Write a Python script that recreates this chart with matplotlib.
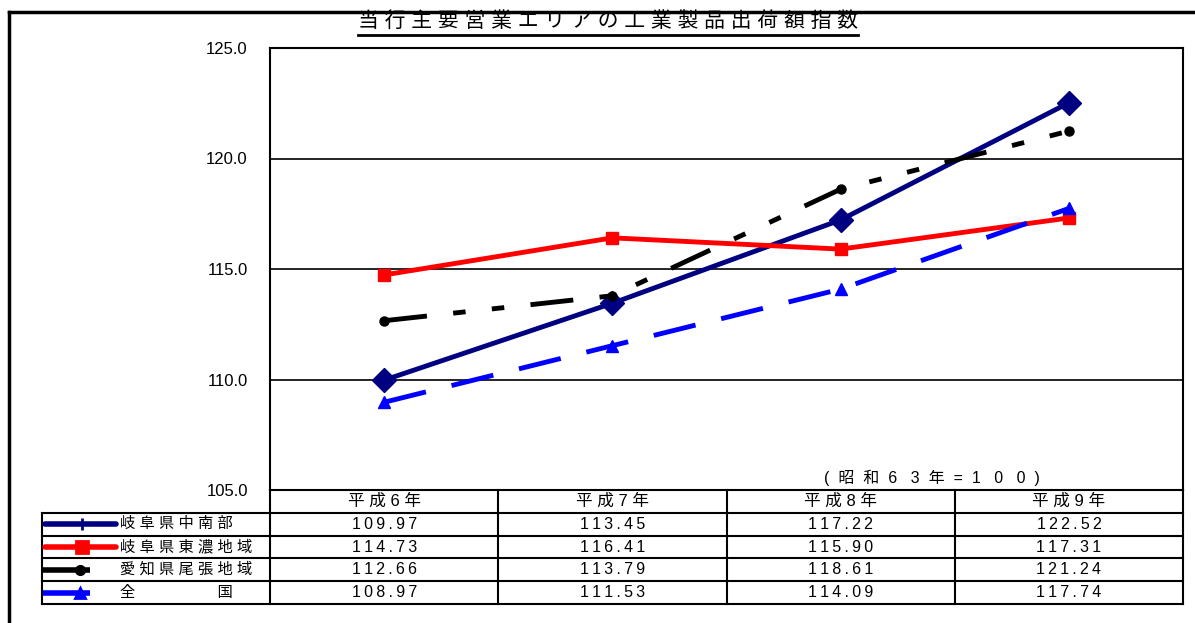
import matplotlib
matplotlib.use('Agg')
import matplotlib.pyplot as plt
from matplotlib.lines import Line2D

plt.rcParams['font.family'] = ['Liberation Sans', 'Noto Sans CJK JP', 'DejaVu Sans']
plt.rcParams['lines.scale_dashes'] = False

# data
years = ['平成6年', '平成7年', '平成8年', '平成9年']
names = ['岐阜県中南部', '岐阜県東濃地域', '愛知県尾張地域', '全　　　　国']
chubu = [109.97, 113.45, 117.22, 122.52]
tono = [114.73, 116.41, 115.90, 117.31]
owari = [112.66, 113.79, 118.61, 121.24]
zenkoku = [108.97, 111.53, 114.09, 117.74]
yticks = [105.0, 110.0, 115.0, 120.0, 125.0]
title = '当行主要営業エリアの工業製品出荷額指数'
note = '(  昭  和  6   3  年  =  1   0   0  )'

W, H = 1195, 623


def spaced(s, sep=' '):
    # Excel-style letter spacing
    return sep.join(s)


fig = plt.figure(figsize=(W / 100, H / 100), dpi=100)

# chart area
ax = fig.add_axes([270 / W, (H - 490) / H, 913 / W, 442 / H])
x = range(len(years))
styles = [
    dict(color='#000080', marker='D', ms=12, ls='-'),
    dict(color='#FF0000', marker='s', ms=8, ls='-'),
    dict(color='black', marker='o', ms=6.5, dashes=(31, 19, 9, 19, 9, 19)),
    dict(color='#0000FF', marker='^', ms=8.5, dashes=(31, 19)),
]
series = [chubu, tono, owari, zenkoku]
for vals, st in zip(series, styles):
    ax.plot(x, vals, lw=3.5, dash_capstyle='butt', solid_capstyle='butt', **st)

ax.set_xlim(-0.5, 3.5)
ax.set_ylim(105, 125)
ax.set_xticks([])
ax.set_yticks(yticks)
ax.set_yticklabels([f'{v:.1f}' for v in yticks])
ax.tick_params(axis='y', length=0, pad=16, labelsize=12)
ax.yaxis.grid(True, color='black', lw=1.2)
for sp in ax.spines.values():
    sp.set_linewidth(1.5)
ax.text(2.40, 105.55, note, ha='center', va='center', fontsize=11.5)

# data table
tax = fig.add_axes([42 / W, (H - 604) / H, 1141 / W, 114 / H])
tax.set_xlim(-1.5, 3.5)
tax.set_ylim(0, 5)
tax.axis('off')
for yv in [0, 1, 2, 3, 4]:
    tax.plot([-1.5, 3.5], [yv, yv], color='black', lw=1.5, clip_on=False)
tax.plot([-1.5, -1.5], [0, 4], color='black', lw=1.5, clip_on=False)
for xv in [-0.5, 0.5, 1.5, 2.5, 3.5]:
    tax.plot([xv, xv], [0, 5], color='black', lw=1.5, clip_on=False)

for i, yr in enumerate(years):
    tax.text(i, 4.5, spaced(yr), ha='center', va='center', fontsize=12)

sample_ext = [(-1.486, -1.175, -1.324), (-1.486, -1.175, -1.324),
              (-1.495, -1.289, -1.332), (-1.495, -1.289, -1.332)]
sample_mk = ['|', 's', 'o', '^']
sample_ms = [8, 8, 6, 7]
for r, (name, vals, st) in enumerate(zip(names, series, styles)):
    yc = 3.5 - r
    x0, x1, xm = sample_ext[r]
    tax.plot([x0, x1], [yc, yc], color=st['color'], lw=4, solid_capstyle='round' if r < 2 else 'butt')
    tax.plot([xm], [yc], color=st['color'], marker=sample_mk[r], ms=sample_ms[r], mew=2)
    tax.text(-1.157, yc, spaced(name), ha='left', va='center', fontsize=11)
    for i, v in enumerate(vals):
        tax.text(i, yc, spaced(f'{v:.2f}', '\u2009'), ha='center', va='center', fontsize=11.5)

# title with underline
t = fig.text(608 / W, 1 - 22 / H, spaced(title), ha='center', va='center', fontsize=15)
fig.canvas.draw()
bb = t.get_window_extent().transformed(fig.transFigure.inverted())
fig.add_artist(Line2D([bb.x0, bb.x1], [1 - 35 / H, 1 - 35 / H], transform=fig.transFigure,
                      color='black', lw=2))

# outer frame
fig.add_artist(Line2D([9 / W, 9 / W], [0, 1 - 12 / H], transform=fig.transFigure, color='black', lw=2.5))
fig.add_artist(Line2D([9 / W, 1], [1 - 12 / H, 1 - 12 / H], transform=fig.transFigure, color='black', lw=2.5))

fig.savefig('out.png', dpi=100, facecolor='white')
